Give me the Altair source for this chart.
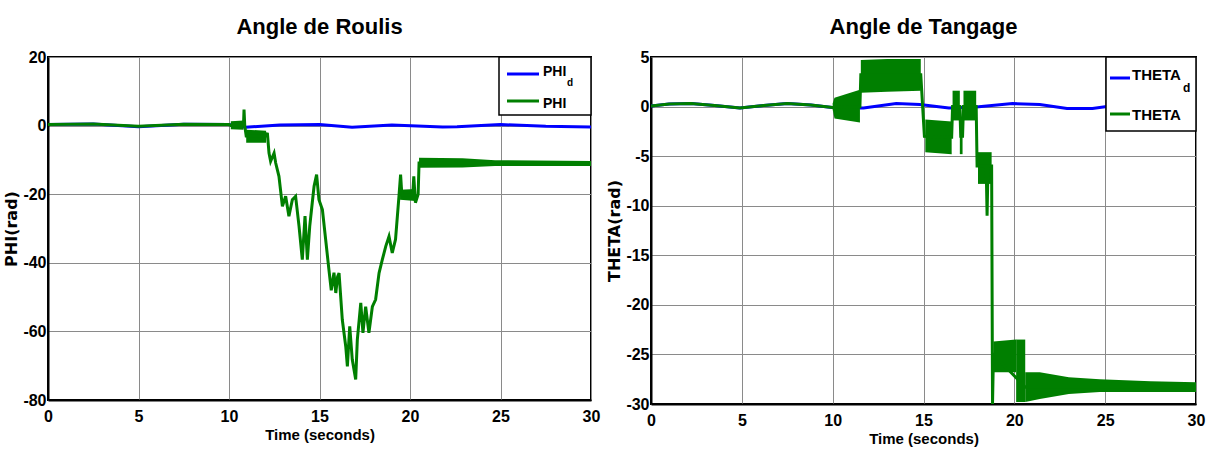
import altair as alt
import pandas as pd

# ---------------- data ----------------
# Left panel: roll angle
PHI_D_T = [0, 2.5, 5, 7.5, 10, 10.9, 12.8, 15, 16.8, 19, 21.8, 22.6, 25, 27.5, 30]
PHI_D_V = [0.3, 0.5, -0.3, 0.4, 0.3, -0.5, 0.2, 0.3, -0.5, 0.2, -0.4, -0.3, 0.3, -0.2, -0.4]

PHI_T = [0, 2.5, 5, 7.5, 10, 10.1, 10.8, 10.83, 10.87, 10.95, 12.05, 12.12, 12.21, 12.3,
         12.49, 12.58, 12.76, 12.95, 13.13, 13.31, 13.5, 13.68, 13.87, 14.05, 14.2, 14.33,
         14.46, 14.6, 14.7, 14.84, 14.97, 15.16, 15.34, 15.52, 15.65, 15.8, 15.9, 16.0,
         16.08, 16.26, 16.45, 16.54, 16.67, 16.81, 17.0, 17.09, 17.28, 17.4, 17.55, 17.73,
         17.92, 18.1, 18.29, 18.47, 18.66, 18.84, 19.02, 19.2, 19.39, 19.48, 19.55, 20.15,
         20.21, 20.3, 20.45, 20.5, 30]
PHI_V = [0.3, 0.5, -0.2, 0.4, 0.3, 0.0, 0.0, 4.7, 0.0, -3.0, -3.0, -2.1, -8.0, -10.4,
         -8.0, -10.9, -14.8, -23.5, -20.6, -26.4, -21.6, -20.6, -29.4, -39.1, -26.4, -39.1,
         -29.4, -22.5, -17.7, -14.3, -21.6, -24.5, -33.2, -42.0, -48.0, -42.9, -48.8, -44.0,
         -43.0, -56.6, -64.4, -70.2, -58.5, -68.2, -74.0, -62.4, -51.7, -60.4, -52.8, -60.4,
         -52.8, -50.7, -43.0, -39.1, -35.2, -32.3, -37.1, -33.2, -20.6, -14.3, -20.2, -20.2,
         -14.8, -22.5, -20.0, -10.9, -11.0]

# dense oscillation envelopes: segment id, time, low, high
PHI_BAND_SEG = [1, 1, 2, 2, 3, 3, 4, 4, 4, 4]
PHI_BAND_T = [10.1, 10.8, 10.95, 12.05, 19.45, 20.3, 20.5, 22.9, 24.7, 30]
PHI_BAND_LO = [-1.1, -1.2, -5.0, -5.0, -21.6, -22.0, -12.3, -12.2, -11.8, -11.8]
PHI_BAND_HI = [1.3, 1.5, -1.2, -1.5, -18.7, -18.5, -9.4, -9.5, -10.1, -10.3]

# Right panel: pitch angle
THETA_D_T = [0, 1, 2.2, 3.5, 4.9, 6.2, 7.5, 8.8, 10.2, 11.7, 13.5, 14.8, 16.4, 17.9,
             19.9, 21.4, 22.9, 24.3, 25.5, 27, 28.5, 30]
THETA_D_V = [0.05, 0.25, 0.3, 0.1, -0.15, 0.1, 0.3, 0.15, -0.15, -0.15, 0.3, 0.2, -0.15,
             -0.05, 0.3, 0.2, -0.2, -0.2, 0.1, 0.3, 0.1, -0.2]

THETA_T = [0, 1, 2.2, 3.5, 4.9, 6.2, 7.5, 8.8, 10.0, 11.5, 11.55, 14.85, 15.05, 16.55,
           16.6, 17.0, 17.05, 17.15, 17.2, 17.9, 17.95, 18.45, 18.5, 18.55, 18.75, 18.8,
           18.85, 20.6, 30]
THETA_V = [0.05, 0.25, 0.3, 0.1, -0.15, 0.1, 0.3, 0.15, -0.1, 0.0, 3.2, 3.2, -3.0, -3.1,
           0.0, 0.0, -3.0, -3.0, 0.0, 0.0, -6.0, -6.0, -11.0, -6.0, -6.0, -30.0,
           -25.0, -28.3, -28.3]

THETA_BAND_SEG = [1, 1, 1, 2, 2, 2, 3, 3, 4, 4, 5, 5, 6, 6, 7, 7, 8, 8, 9, 9,
                  10, 10, 10, 10, 10, 10]
THETA_BAND_T = [10.0, 10.1, 11.5, 11.55, 13.0, 14.85, 15.1, 16.55, 16.6, 17.0, 17.0, 17.15,
                17.2, 17.9, 18.0, 18.75, 18.85, 20.1, 20.1, 20.6, 20.6, 21.4, 23.0, 24.7,
                27.5, 30]
THETA_BAND_LO = [-0.3, -1.2, -1.6, 1.4, 1.5, 1.6, -4.6, -4.8, -1.4, -1.4, -4.8, -4.8,
                 -1.4, -1.4, -7.8, -7.8, -26.8, -26.8, -29.8, -29.8, -29.8, -29.5, -29.0,
                 -28.8, -28.8, -28.8]
THETA_BAND_HI = [0.3, 0.9, 1.7, 4.7, 4.8, 4.8, -1.3, -1.5, 1.6, 1.6, -1.5, -1.5,
                 1.6, 1.6, -4.6, -4.6, -23.7, -23.5, -23.5, -23.5, -26.8, -26.8, -27.3,
                 -27.5, -27.7, -27.8]

X_TICKS = [0, 5, 10, 15, 20, 25, 30]
PHI_TICKS = [-80, -60, -40, -20, 0, 20]
THETA_TICKS = [-30, -25, -20, -15, -10, -5, 0, 5]

BLUE = "#0000FF"
GREEN = "#007F00"
FONT = "Liberation Sans, Arial, sans-serif"
MINUS = "replace(datum.label, '\u2212', '-')"


def line_df(ts, vs):
    return pd.DataFrame({"t": ts, "v": vs})


def band_df(seg, ts, lo, hi):
    return pd.DataFrame({"seg": seg, "t": ts, "lo": lo, "hi": hi})


def one():
    return pd.DataFrame({"k": [0]})


def legend_layers(box, entries, font_size, sub_size):
    x0, x1, y0, y1 = box
    layers = [
        alt.Chart(one()).mark_rect(fill="white", stroke="black", strokeWidth=1.5).encode(
            x=alt.value(x0), x2=alt.value(x1), y=alt.value(y0), y2=alt.value(y1))
    ]
    for (color, lx0, lx1, ly, label, tx, ty, sub, sx, sy) in entries:
        layers.append(alt.Chart(one()).mark_rule(color=color, strokeWidth=3).encode(
            x=alt.value(lx0), x2=alt.value(lx1), y=alt.value(ly)))
        layers.append(alt.Chart(one()).mark_text(
            text=label, align="left", baseline="middle", font=FONT,
            fontSize=font_size, fontWeight="bold", color="black").encode(
            x=alt.value(tx), y=alt.value(ty)))
        if sub:
            layers.append(alt.Chart(one()).mark_text(
                text=sub, align="left", baseline="middle", font=FONT,
                fontSize=sub_size, fontWeight="bold", color="black").encode(
                x=alt.value(sx), y=alt.value(sy)))
    return layers


def panel(title, ytitle, blue, green, bands, ydomain, yticks, w, h, legend):
    xaxis = alt.Axis(values=X_TICKS, title="Time (seconds)", labelFlush=False,
                     labelExpr=MINUS)
    yaxis = alt.Axis(values=yticks, title=ytitle, labelFlush=False, labelExpr=MINUS)
    xs = alt.Scale(domain=[0, 30], nice=False)
    ys = alt.Scale(domain=ydomain, nice=False)
    b = alt.Chart(blue).mark_line(color=BLUE, strokeWidth=3, clip=True).encode(
        x=alt.X("t:Q", scale=xs, axis=xaxis),
        y=alt.Y("v:Q", scale=ys, axis=yaxis))
    a = alt.Chart(bands).mark_area(color=GREEN, opacity=1, clip=True).encode(
        x=alt.X("t:Q", title="Time (seconds)"),
        y=alt.Y("lo:Q", title=ytitle), y2="hi:Q", detail="seg:N")
    g = alt.Chart(green).mark_line(color=GREEN, strokeWidth=3, clip=True).encode(
        x=alt.X("t:Q", title="Time (seconds)"),
        y=alt.Y("v:Q", title=ytitle))
    return alt.layer(b, a, g, *legend).properties(
        width=w, height=h,
        title=alt.TitleParams(title, font=FONT, fontSize=22, fontWeight="bold",
                              anchor="middle", offset=10, color="black"))


left = panel(
    "Angle de Roulis", "PHI(rad)",
    line_df(PHI_D_T, PHI_D_V), line_df(PHI_T, PHI_V),
    band_df(PHI_BAND_SEG, PHI_BAND_T, PHI_BAND_LO, PHI_BAND_HI),
    [-80, 20], PHI_TICKS, 543, 343,
    legend_layers((451, 543, 0, 58), [
        (BLUE, 459, 491, 17, "PHI", 495, 15, "d", 519, 26),
        (GREEN, 459, 491, 44, "PHI", 495, 47, None, 0, 0),
    ], 14, 10))

right = panel(
    "Angle de Tangage", "THETA(rad)",
    line_df(THETA_D_T, THETA_D_V), line_df(THETA_T, THETA_V),
    band_df(THETA_BAND_SEG, THETA_BAND_T, THETA_BAND_LO, THETA_BAND_HI),
    [-30, 5], THETA_TICKS, 545, 347,
    legend_layers((455, 545, 0, 74), [
        (BLUE, 459, 479, 21, "THETA", 481, 18, "d", 532, 31),
        (GREEN, 459, 479, 57, "THETA", 481, 58, None, 0, 0),
    ], 15, 12))

chart = alt.hconcat(left, right, spacing=4).properties(
    padding={"left": 2, "top": 15, "right": 0, "bottom": 0},
    background="white",
).configure_axis(
    grid=True, gridColor="#8a8a8a", gridWidth=1, gridOpacity=1,
    domainColor="black", domainWidth=2, ticks=False, tickSize=0,
    labelFont=FONT, labelFontSize=16, labelFontWeight="bold", labelColor="black",
    labelPadding=3,
    titleFont=FONT, titleFontSize=15, titleFontWeight="bold", titleColor="black",
    titlePadding=2,
).configure_axisX(
    labelPadding=8, titlePadding=3,
).configure_axisY(
    labelPadding=2, titleFont="DejaVu Sans", titleFontSize=16, titlePadding=3,
).configure_view(
    stroke="black", strokeWidth=2
)

chart.save("out.html", embed_options={"renderer": "svg", "actions": False})
